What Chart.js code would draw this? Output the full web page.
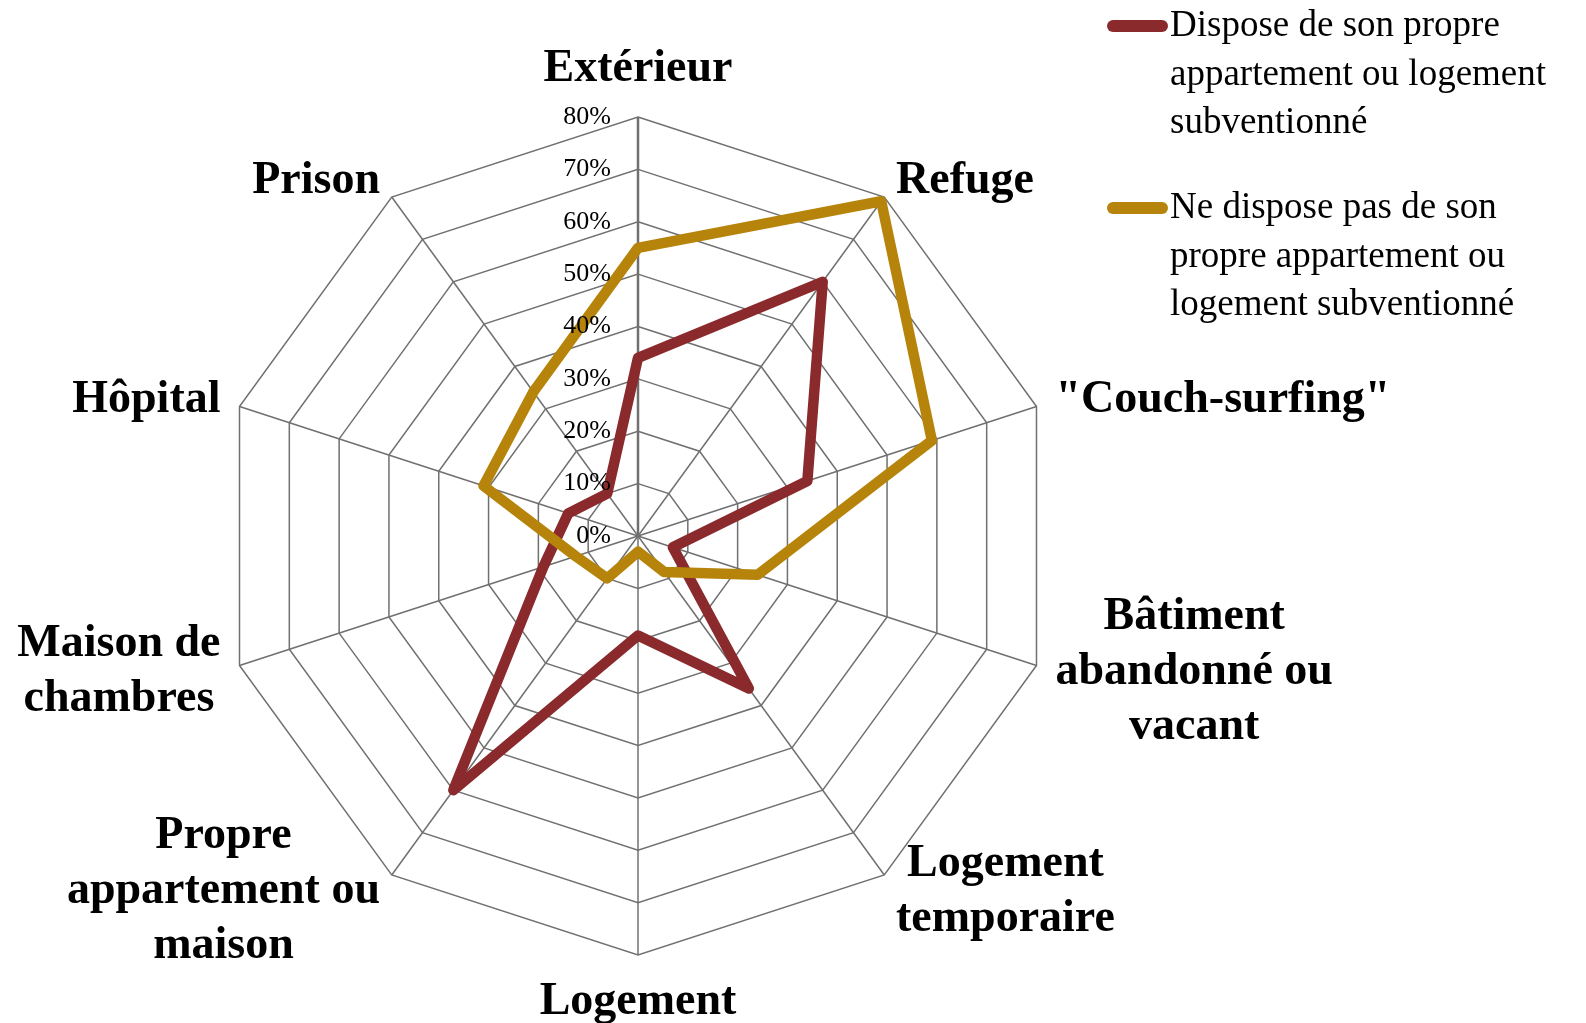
<!DOCTYPE html>
<html lang="fr">
<head>
<meta charset="utf-8">
<title>Radar - logement</title>
<script src="https://cdn.jsdelivr.net/npm/chart.js@4.4.1/dist/chart.umd.min.js"></script>
<style>
  html, body { margin: 0; padding: 0; background: #ffffff; }
  canvas { display: block; }
</style>
</head>
<body>
<canvas id="radarChart" width="1586" height="1023"></canvas>
<script>
// categories (multi-line labels as arrays)
const categories = [
    "Extérieur",
    "Refuge",
    "\"Couch-surfing\"",
    ["Bâtiment", "abandonné ou", "vacant"],
    ["Logement", "temporaire"],
    "Logement",
    ["Propre", "appartement ou", "maison"],
    ["Maison de", "chambres"],
    "Hôpital",
    "Prison"
];

// values in %
const ownHousing = [34, 60, 34, 7, 36, 19, 60, 19, 14, 10];
const noOwnHousing = [55, 79, 59, 24, 8.5, 3, 10, 12.5, 31, 34];

const seriesNames = [
    ["Dispose de son propre", "appartement ou logement", "subventionné"],
    ["Ne dispose pas de son", "propre appartement ou", "logement subventionné"]
];
const seriesColors = ["#8B2A2C", "#B6840A"];

const tickValues = [0, 10, 20, 30, 40, 50, 60, 70, 80];

const SERIF = '"Liberation Serif", "Times New Roman", serif';

// labels, tick texts and legend drawn on top of the chart
const labelPlugin = {
    id: "sketchLabels",
    afterDraw(chart) {
        const scale = chart.scales.r;
        const ctx = chart.ctx;
        ctx.save();

        // point labels
        ctx.font = "bold 46px " + SERIF;
        ctx.fillStyle = "#000";
        ctx.textBaseline = "middle";
        ctx.textAlign = "center";
        const lineH = 55;
        categories.forEach((lab, i) => {
            const lines = Array.isArray(lab) ? lab : [lab];
            const p = scale.getPointPosition(i, scale.drawingArea + 20);
            const a = scale.getIndexAngle(i);
            const s = Math.sin(a), c = Math.cos(a);
            const w = Math.max(...lines.map(l => ctx.measureText(l).width));
            const h = lines.length * lineH;
            let cx = p.x;
            if (s > 0.01) cx = p.x + w / 2;
            else if (s < -0.01) cx = p.x - w / 2;
            let cy = p.y;
            if (Math.abs(s) < 0.01) cy = p.y - c * h / 2;
            lines.forEach((l, k) => {
                ctx.fillText(l, cx, cy - h / 2 + lineH * (k + 0.5));
            });
        });

        // tick labels, left of the first axis
        ctx.font = "26px " + SERIF;
        ctx.textAlign = "right";
        tickValues.forEach(v => {
            const y = scale.yCenter - scale.getDistanceFromCenterForValue(v);
            ctx.fillText(v + "%", scale.xCenter - 27, y);
        });

        // legend
        ctx.font = "37px " + SERIF;
        ctx.textAlign = "left";
        ctx.textBaseline = "alphabetic";
        seriesNames.forEach((lines, i) => {
            const top = 26 + i * 182;
            ctx.strokeStyle = seriesColors[i];
            ctx.lineWidth = 12;
            ctx.lineCap = "round";
            ctx.beginPath();
            ctx.moveTo(1113, top);
            ctx.lineTo(1162, top);
            ctx.stroke();
            lines.forEach((l, k) => {
                ctx.fillText(l, 1170, top + 10 + k * 48.5);
            });
        });

        ctx.restore();
    }
};

const ctx = document.getElementById("radarChart").getContext("2d");

const chart = new Chart(ctx, {
    type: "radar",
    data: {
        labels: categories,
        datasets: [
            {
                label: seriesNames[0].join(" "),
                data: ownHousing,
                borderColor: seriesColors[0],
                backgroundColor: "rgba(0,0,0,0)",
                borderWidth: 10.5,
                borderJoinStyle: "round",
                pointRadius: 0,
                fill: false,
                order: 1
            },
            {
                label: seriesNames[1].join(" "),
                data: noOwnHousing,
                borderColor: seriesColors[1],
                backgroundColor: "rgba(0,0,0,0)",
                borderWidth: 10.5,
                borderJoinStyle: "round",
                pointRadius: 0,
                fill: false,
                order: 0
            }
        ]
    },
    options: {
        responsive: false,
        animation: false,
        layout: {
            padding: { left: 219, top: 117, right: 529, bottom: 68 }
        },
        plugins: {
            legend: { display: false },
            tooltip: { enabled: false }
        },
        scales: {
            r: {
                min: 0,
                max: 80,
                ticks: { display: false, stepSize: 10 },
                pointLabels: { display: false },
                grid: { circular: false, color: "#707070", lineWidth: 1.5 },
                angleLines: {
                    color: "#707070",
                    lineWidth: c => (c.index === 0 ? 2.5 : 1.5)
                }
            }
        }
    },
    plugins: [labelPlugin]
});
</script>
</body>
</html>
